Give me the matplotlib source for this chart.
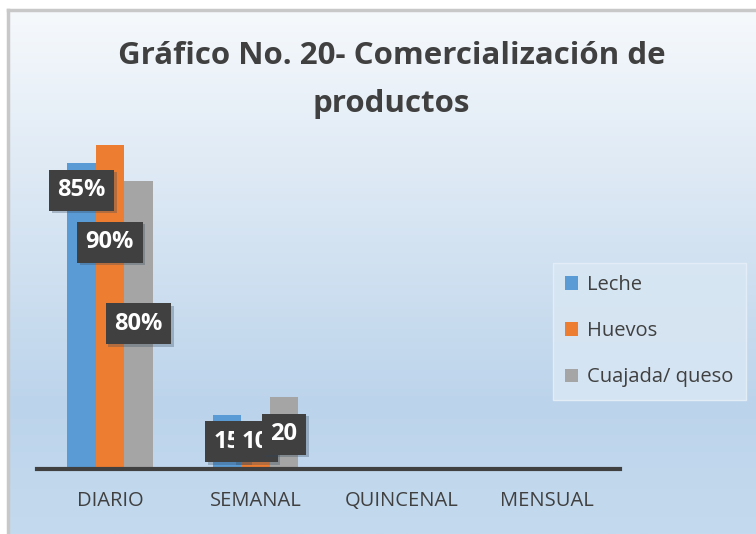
"""Gráfico No. 20 - Comercialización de productos."""

import matplotlib
matplotlib.use("Agg")
import matplotlib.pyplot as plt
import matplotlib.patheffects as pe
import numpy as np
from matplotlib.colors import LinearSegmentedColormap

CATEGORIES = ["DIARIO", "SEMANAL", "QUINCENAL", "MENSUAL"]
SERIES = ["Leche", "Huevos", "Cuajada/ queso"]
LECHE = [85, 15, 0, 0]
HUEVOS = [90, 10, 0, 0]
CUAJADA = [80, 20, 0, 0]
# label texts as they appear (the SEMANAL ones are clipped by their boxes)
LABELS = [["85%", "90%", "80%"], ["15", "10", "20"]]
# where the labels were dragged to in the original (value units)
LABEL_Y = [[77.5, 63.0, 40.3], [7.6, 7.6, 9.7]]

COLORS = ["#5B9BD5", "#ED7D31", "#A5A5A5"]
TEXT = "#404040"
FONT = ["Open Sans", "DejaVu Sans"]

plt.rcParams["font.family"] = FONT

W, H = 756, 534
fig = plt.figure(figsize=(W / 100, H / 100), dpi=100)

# background: gradient panel with thin grey border on top/left
bg = fig.add_axes([8 / W, 0, 1 - 8 / W, (H - 10) / H])
cmap = LinearSegmentedColormap.from_list(
    "bg", [(0, "#f6f9fc"), (0.3, "#dfeaf5"), (0.75, "#bcd4eb"), (1, "#c4daee")]
)
grad = np.linspace(0, 1, 256).reshape(-1, 1)
bg.imshow(grad, aspect="auto", cmap=cmap, extent=[0, 1, 0, 1], origin="upper")
bg.set_xlim(0, 1)
bg.set_ylim(0, 1)
bg.axis("off")
bg.plot([0, 0], [0, 1], color="#c8c8c8", lw=2.5, transform=bg.transAxes, clip_on=False)
bg.plot([0, 1], [1, 1], color="#c8c8c8", lw=2.5, transform=bg.transAxes, clip_on=False)

ax = fig.add_axes([37 / W, (H - 469) / H, 583 / W, 360 / H])
ax.patch.set_alpha(0)
ax.set_xlim(-0.5, len(CATEGORIES) - 0.5)
ax.set_ylim(0, 100)

x = np.arange(len(CATEGORIES))
width = 0.195
values = [LECHE, HUEVOS, CUAJADA]
for i, (name, vals, color) in enumerate(zip(SERIES, values, COLORS)):
    ax.bar(x + (i - 1) * width, vals, width, color=color, label=name, zorder=2)

z = 5
for g, (labels, ys) in enumerate(zip(LABELS, LABEL_Y)):
    for i, (lab, y) in enumerate(zip(labels, ys)):
        t = ax.text(
            x[g] + (i - 1) * width, y, lab,
            ha="center", va="center", color="white", fontsize=17, fontweight="bold",
            zorder=z,
            bbox=dict(boxstyle="square,pad=0.36", facecolor="#404040", edgecolor="none"),
        )
        t.get_bbox_patch().set_path_effects(
            [pe.SimplePatchShadow(offset=(2, -2), shadow_rgbFace="#30465c", alpha=0.3), pe.Normal()]
        )
        z += 1

for side in ("top", "right", "left"):
    ax.spines[side].set_visible(False)
ax.spines["bottom"].set_color("#404040")
ax.spines["bottom"].set_linewidth(3)
ax.spines["bottom"].set_zorder(3)
ax.set_yticks([])
ax.set_xticks(x, CATEGORIES)
ax.tick_params(axis="x", length=0, pad=16, labelsize=14.5, labelcolor=TEXT)

fig.text(0.518, 1 - 56 / H, "Gráfico No. 20- Comercialización de",
         ha="center", va="center", fontsize=22.5, fontweight="bold", color=TEXT)
fig.text(0.518, 1 - 104 / H, "productos",
         ha="center", va="center", fontsize=22.5, fontweight="bold", color=TEXT)

leg = fig.legend(
    loc="upper left", bbox_to_anchor=(553 / W, 1 - 263 / H), borderaxespad=0,
    fontsize=14.5, frameon=True, fancybox=False, handlelength=0.65, handleheight=0.65,
    handletextpad=0.45, labelspacing=1.3, borderpad=0.6, labelcolor=TEXT,
)
frame = leg.get_frame()
frame.set_facecolor("#d8e6f3")
frame.set_edgecolor("#e6eff8")
frame.set_alpha(0.9)

fig.savefig("out.png", dpi=100)
